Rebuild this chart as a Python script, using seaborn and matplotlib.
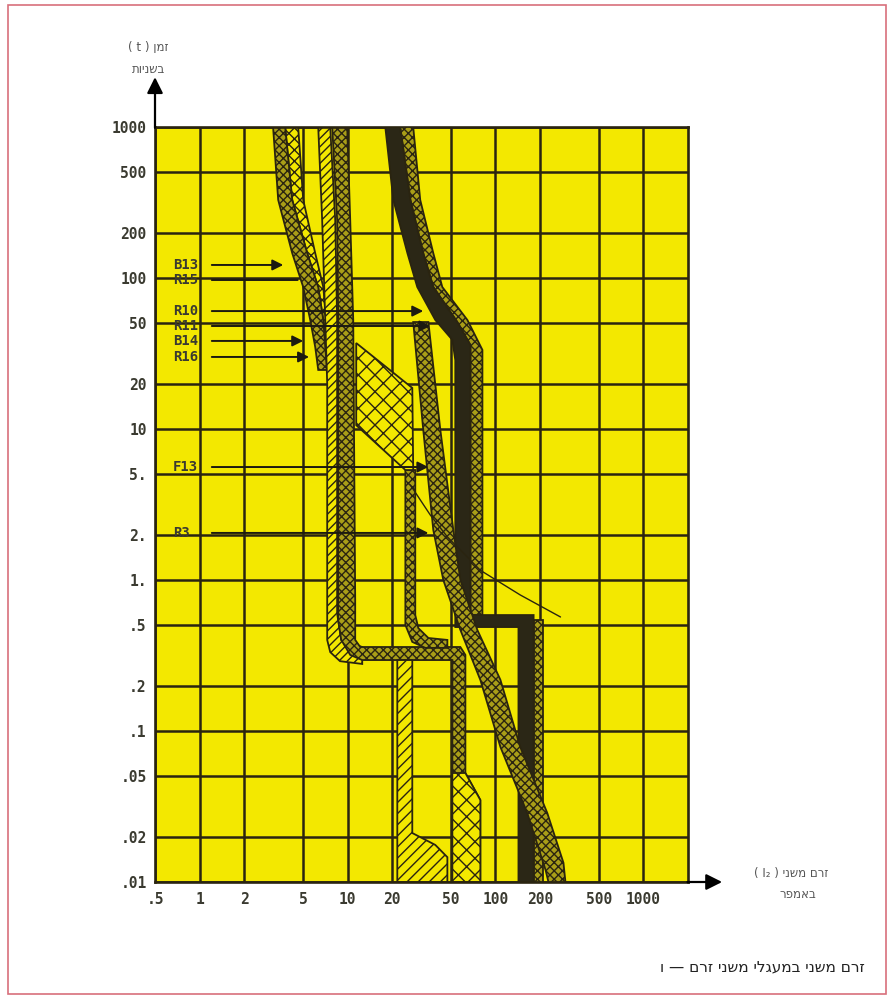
import matplotlib
matplotlib.use("Agg")
import matplotlib.pyplot as plt
import seaborn as sns
from matplotlib.patches import Rectangle
from matplotlib.ticker import NullLocator

# ---------------- data ----------------
x_ticks = [0.5, 1, 2, 5, 10, 20, 50, 100, 200, 500, 1000]
x_tick_labels = [".5", "1", "2", "5", "10", "20", "50", "100", "200", "500", "1000"]
y_ticks = [1000, 500, 200, 100, 50, 20, 10, 5, 2, 1, 0.5, 0.2, 0.1, 0.05, 0.02, 0.01]
y_tick_labels = ["1000", "500", "200", "100", "50", "20", "10", "5.", "2.", "1.",
                 ".5", ".2", ".1", ".05", ".02", ".01"]

# band outlines: secondary current (A) and time (s)
a_dark_I = [3.14, 3.40, 4.23, 5.02, 5.6, 6.05, 6.34, 7.29, 7.07, 6.86, 6.34, 5.34, 4.23, 3.79]
a_dark_t = [1000, 329, 146, 87, 52.7, 34.9, 24.6, 24.6, 34.9, 52.7, 87, 146, 329, 1000]

a_light_I = [3.79, 4.23, 5.34, 6.34, 6.86, 7.18, 7.18, 6.86, 6.05, 5.02, 4.64]
a_light_t = [1000, 329, 146, 87, 52.7, 38.9, 52.7, 87, 146, 329, 1000]

ribbon_I = [6.34, 6.74, 7.07, 7.29, 7.29, 7.64, 8.90, 12.57, 12.57, 9.07, 8.51, 8.51, 8.26, 7.64]
ribbon_t = [1000, 242, 52.7, 20, 0.401, 0.333, 0.29, 0.278, 0.36, 0.401, 0.6, 52.7, 242, 1000]

b2_I = [7.88, 8.51, 8.65, 8.65, 9.07, 10.43, 12.57, 51.1, 51.1,
        79.0, 79.0, 62.6, 62.6, 57.9, 12.19, 11.27, 11.27, 10.93, 10.43, 9.95]
b2_t = [1000, 242, 52.7, 0.543, 0.401, 0.319, 0.295, 0.295, 0.01,
        0.01, 0.0349, 0.0527, 0.319, 0.36, 0.36, 0.401, 0.737, 52.7, 242, 1000]

b2_foot_I = [51.1, 62.6, 79.0, 79.0, 51.1]
b2_foot_t = [0.0527, 0.0527, 0.0349, 0.01, 0.01]

diamond_I = [11.45, 27.4, 27.8, 24.6, 11.45]
diamond_t = [37.1, 18.7, 5.35, 5.35, 10.6]

thin_I = [24.6, 24.6, 27.4, 33.6, 47.3, 47.3, 35.2, 30.1, 28.7, 28.7]
thin_t = [5.35, 0.504, 0.389, 0.355, 0.355, 0.401, 0.413, 0.48, 0.586, 5.35]

hatch_I = [21.7, 21.7, 47.3, 47.3, 39.2, 27.4, 27.4]
hatch_t = [0.295, 0.01, 0.01, 0.0146, 0.0176, 0.0211, 0.295]

c_dark_I = [18.0, 20.4, 25.4, 29.6, 39.2, 51.1, 53.5, 53.5, 143, 143,
            181, 181, 67.7, 67.7, 55.2, 38.0, 32.5, 26.6, 22.7]
c_dark_t = [1000, 329, 146, 87.2, 52.7, 38.9, 28.6, 0.488, 0.488, 0.01,
            0.01, 0.586, 0.586, 36.0, 51.1, 87.2, 146, 329, 1000]

c_light_I = [22.7, 26.6, 32.5, 38.0, 55.2, 67.7, 67.7, 81.6, 81.6, 64.6, 43.7, 38.0, 31.0, 27.8]
c_light_t = [1000, 329, 146, 87.2, 51.1, 36.0, 0.586, 0.586, 33.4, 52.7, 87.2, 146, 329, 1000]

c_low_I = [181, 211, 211, 181]
c_low_t = [0.543, 0.543, 0.01, 0.01]

d_I = [27.8, 32.5, 38.0, 44.4, 57.9, 79.0, 108, 164, 218, 228,
       297, 288, 224, 147, 108, 75.4, 57.9, 51.9, 42.4, 35.2]
d_t = [51.1, 9.85, 2.14, 1.0, 0.467, 0.218, 0.0783, 0.0286, 0.012, 0.01,
       0.01, 0.0134, 0.0286, 0.0783, 0.218, 0.467, 1.0, 2.14, 9.85, 51.1]

line_I = [26.6, 36.3, 47.3, 79.0, 147, 275]
line_t = [4.26, 2.69, 1.93, 1.16, 0.796, 0.569]

curve_labels = ["B13", "R15", "R10", "R11", "B14", "R16", "F13", "R3"]
label_t = [122, 97, 60.4, 48.1, 38.3, 30.0, 5.6, 2.05]
arrow_I = [3.68, 4.6, 32.5, 36.3, 5.02, 5.5, 35.2, 35.2]
has_head = [True, False, True, True, True, True, True, True]

# ---------------- style ----------------
sns.set_style("white")
plt.rcParams["font.family"] = ["DejaVu Sans"]
plt.rcParams["hatch.linewidth"] = 1.0

YELLOW = "#F3E800"
INK = "#2a2410"
OLIVE = "#a99e18"

fig = plt.figure(figsize=(8.89, 9.98), dpi=100)
ax = fig.add_axes([155 / 889, 116 / 998, 533 / 889, 755 / 998])
ax.set_xscale("log")
ax.set_yscale("log")
ax.set_xlim(0.5, 2000)
ax.set_ylim(0.01, 1000)
ax.set_facecolor(YELLOW)

ax.set_xticks(x_ticks)
ax.set_xticklabels(x_tick_labels)
ax.set_yticks(y_ticks)
ax.set_yticklabels(y_tick_labels)
ax.xaxis.set_minor_locator(NullLocator())
ax.yaxis.set_minor_locator(NullLocator())
ax.tick_params(axis="both", length=0, labelsize=10.5, colors="#3a3a30")
ax.tick_params(axis="y", pad=6)
ax.tick_params(axis="x", pad=7)
for lab in ax.get_xticklabels() + ax.get_yticklabels():
    lab.set_family("DejaVu Sans Mono")
    lab.set_weight("bold")
ax.grid(True, which="major", color=INK, lw=1.8)
ax.set_axisbelow(True)
for s in ax.spines.values():
    s.set_color(INK)
    s.set_linewidth(1.9)


def band(I, t, hatch, face, z, lw=1.3):
    ax.fill(I, t, facecolor=face, edgecolor=INK, hatch=hatch, lw=lw, zorder=z)


band(a_light_I, a_light_t, "xxx", YELLOW, 2)
band(a_dark_I, a_dark_t, "xxxx", OLIVE, 2.1)
band(ribbon_I, ribbon_t, "////", YELLOW, 2.2)
band(b2_I, b2_t, "xxxx", OLIVE, 2.3)
band(b2_foot_I, b2_foot_t, "xx", YELLOW, 2.35)
band(hatch_I, hatch_t, "///", YELLOW, 2.4)
band(thin_I, thin_t, "xxxx", OLIVE, 2.45)
band(diamond_I, diamond_t, "xx", YELLOW, 2.5)
band(c_light_I, c_light_t, "xxxx", OLIVE, 2.6)
band(c_dark_I, c_dark_t, None, "#2b2716", 2.7)
band(c_low_I, c_low_t, "xxxx", OLIVE, 2.75)
band(d_I, d_t, "xxxx", OLIVE, 2.8)

sns.lineplot(x=line_I, y=line_t, ax=ax, color=INK, lw=1.0, sort=False,
             estimator=None, zorder=3)

# curve labels with leader arrows
for name, t, xi, head in zip(curve_labels, label_t, arrow_I, has_head):
    ax.text(0.66, t, name, ha="left", va="center", family="DejaVu Sans Mono",
            weight="bold", size=10, color="#3a3a30", zorder=4)
    ax.annotate("", xy=(xi, t), xytext=(1.21, t),
                arrowprops=dict(arrowstyle="-|>" if head else "-", color="#1c1a10",
                                lw=1.4, mutation_scale=16, shrinkA=0, shrinkB=0),
                zorder=4)

# axis arrows
ax.annotate("", xy=(0, 1.066), xycoords="axes fraction", xytext=(0, 0.999),
            arrowprops=dict(arrowstyle="-|>", color="black", lw=1.6,
                            mutation_scale=24, shrinkA=0, shrinkB=0))
ax.annotate("", xy=(1.064, 0), xycoords="axes fraction", xytext=(0.999, 0),
            arrowprops=dict(arrowstyle="-|>", color="black", lw=1.6,
                            mutation_scale=24, shrinkA=0, shrinkB=0))

# Hebrew axis titles (visual order)
fig.text(0.167, 0.952, "( t ) ןמז", ha="center", va="center", size=8.5, color="#555")
fig.text(0.167, 0.930, "תוינשב", ha="center", va="center", size=8.5, color="#555")
fig.text(0.890, 0.125, "( I₂ ) ינשמ םרז", ha="center", va="center", size=8.5, color="#555")
fig.text(0.898, 0.104, "רפמאב", ha="center", va="center", size=8.5, color="#555")

# caption
fig.text(0.973, 0.031, "ו — םרז ינשמ ילגעמב ינשמ םרז", ha="right", va="center",
         size=11, color="#222")

# page border
fig.patches.append(Rectangle((8 / 889, 4 / 998), 878 / 889, 989 / 998,
                             transform=fig.transFigure, fill=False,
                             edgecolor="#d8707c", lw=1.2))

fig.savefig("out.png", dpi=100, facecolor="white")
